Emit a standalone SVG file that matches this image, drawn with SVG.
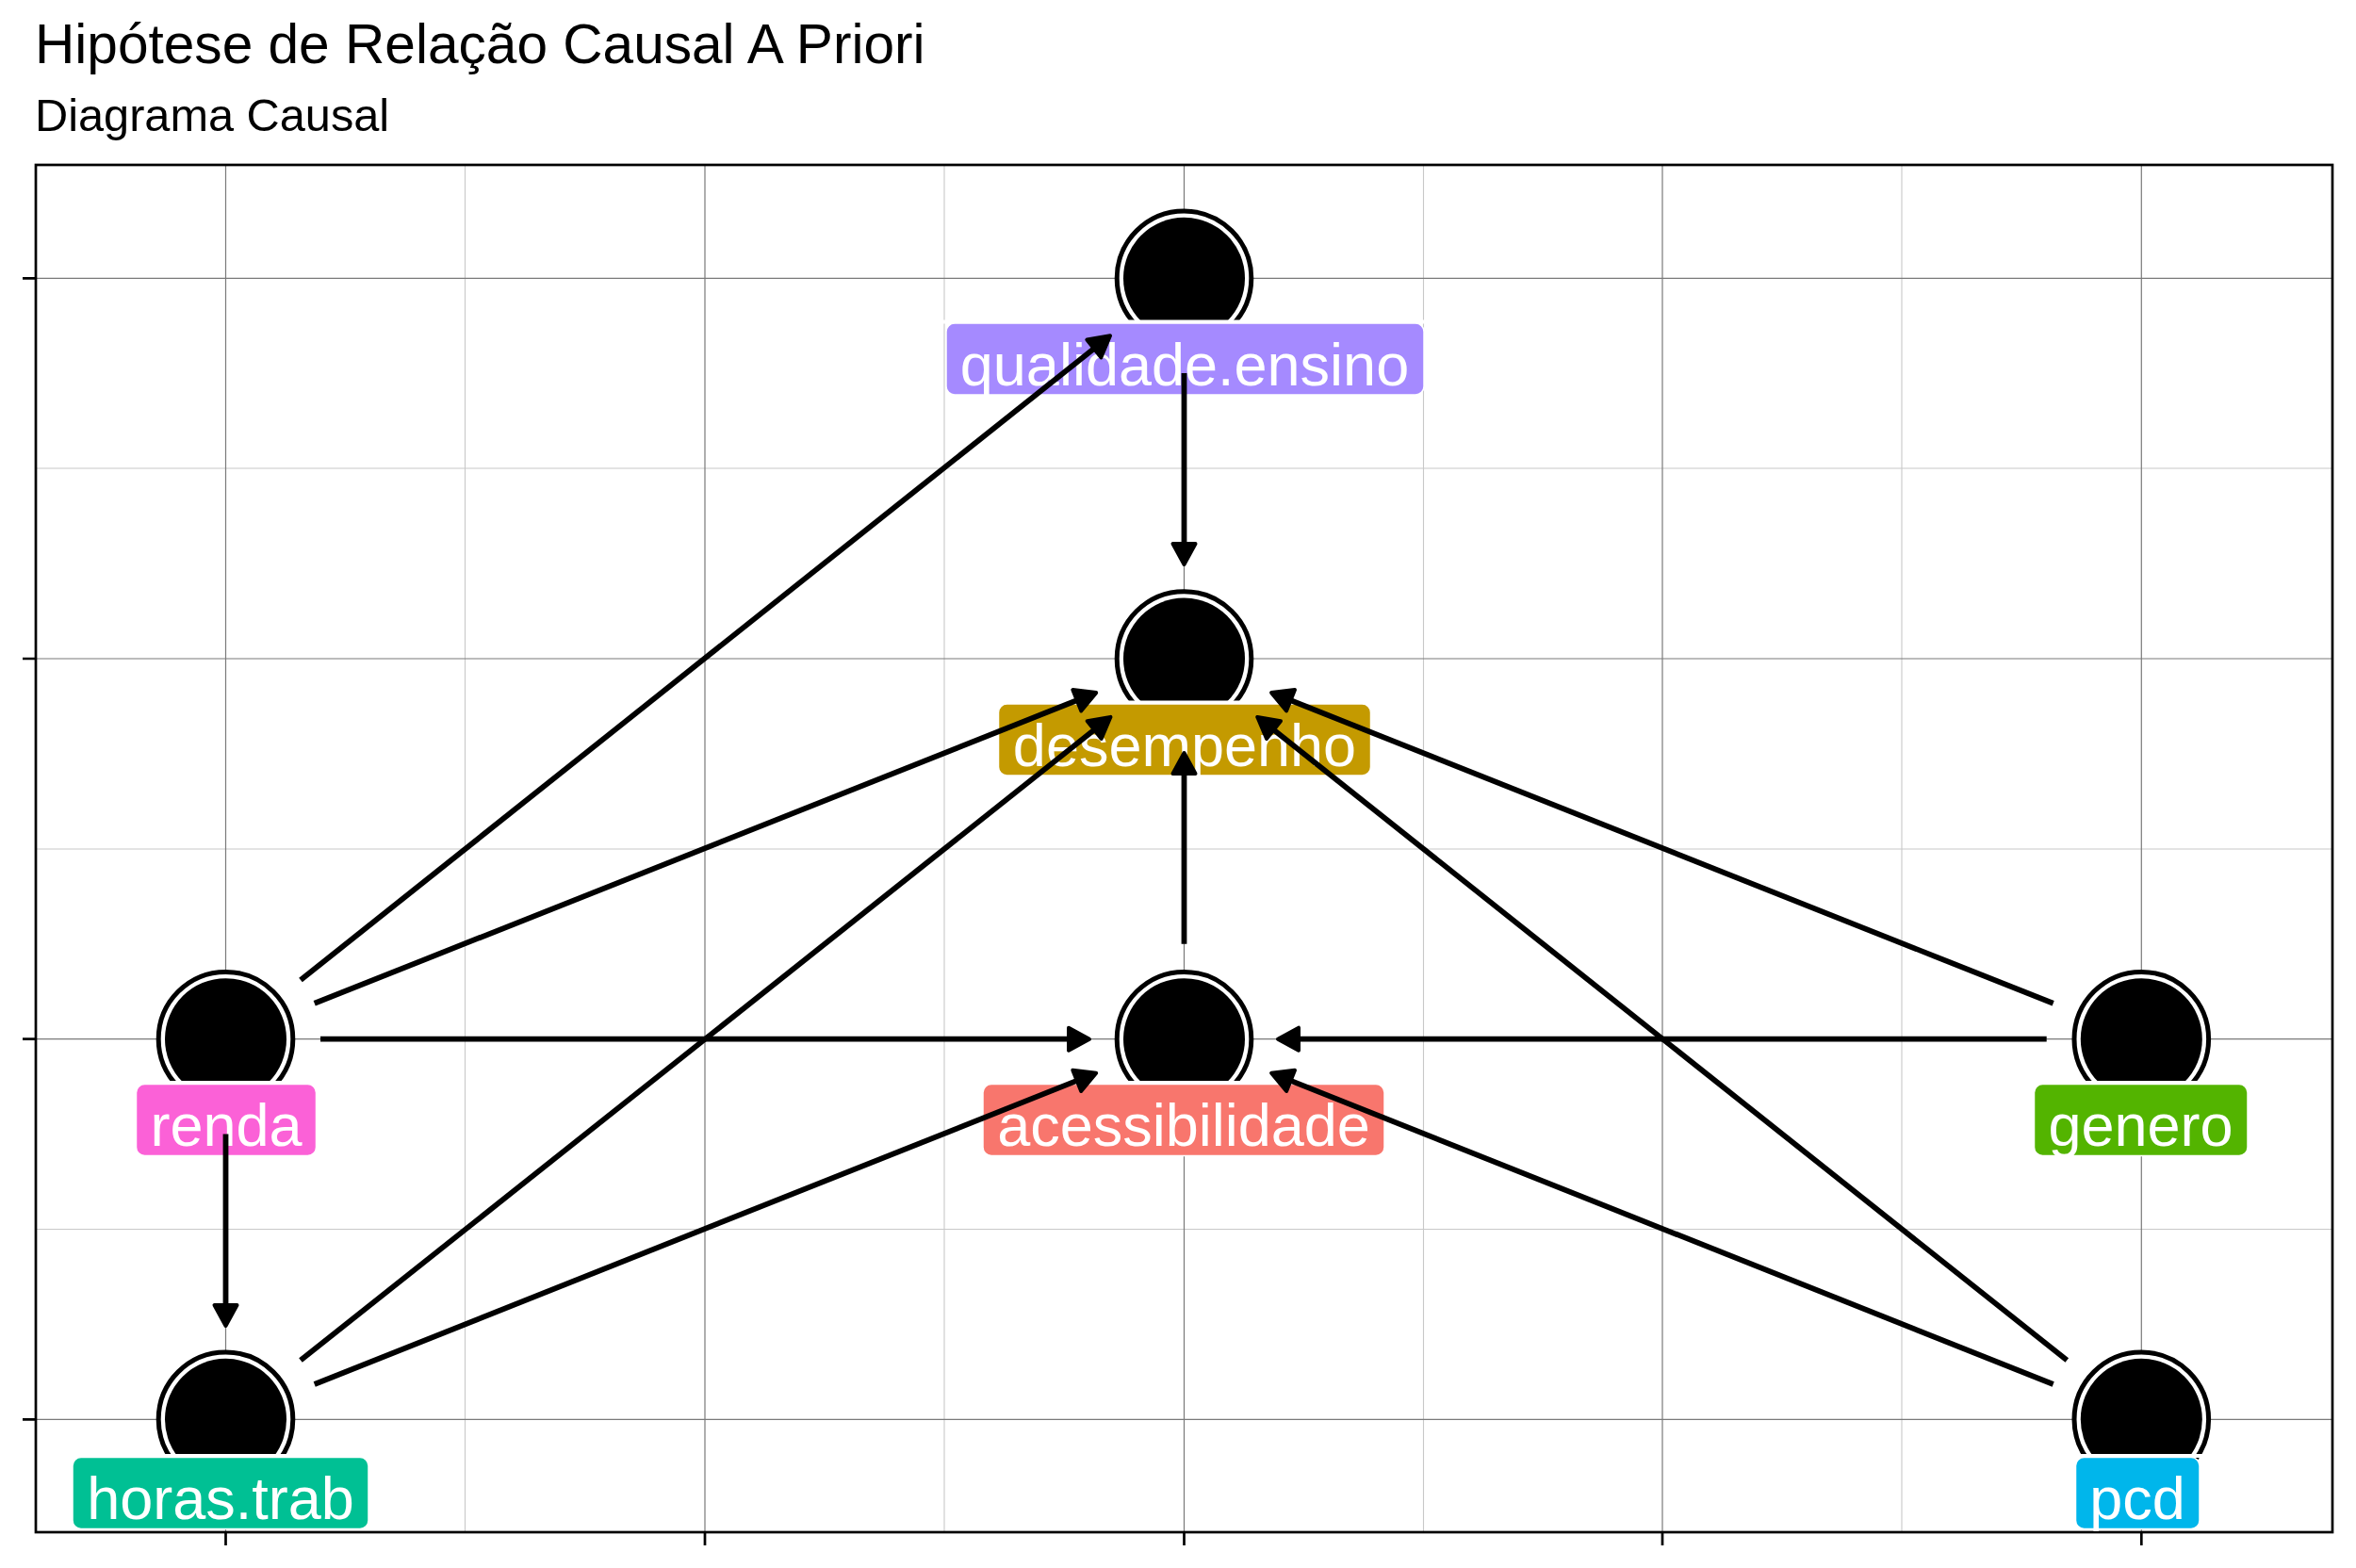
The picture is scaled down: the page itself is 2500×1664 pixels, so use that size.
<svg xmlns="http://www.w3.org/2000/svg" width="2500" height="1664" viewBox="0 0 2500 1664">
<style>
text{font-family:"Liberation Sans",Arial,sans-serif}
.title{font-size:58.6px;fill:#000}
.sub{font-size:48.7px;fill:#000}
.maj{stroke:#7a7a7a;stroke-width:1.2;fill:none}
.min{stroke:#c8c8c8;stroke-width:1.1;fill:none}
.tick{stroke:#000;stroke-width:2.7;fill:none}
.ring{fill:#fff;stroke:#000;stroke-width:5}
.dot{fill:#000}
.lab{stroke:#fff;stroke-width:1.5}
.txt{font-size:63px;fill:#fff;text-anchor:middle}
.edge{stroke:#000;stroke-width:5.8;fill:none;marker-end:url(#ah)}
</style>
<defs>
<marker id="ah" markerUnits="userSpaceOnUse" viewBox="-16 -16 32 32" markerWidth="32" markerHeight="32" refX="0" refY="0" orient="auto">
<path d="M-12,-12 L10,0 L-12,12 Z" fill="#000" stroke="#000" stroke-width="4" stroke-linejoin="round"/>
</marker>
</defs>
<rect width="2500" height="1664" fill="#fff"/>
<text class="title" x="37" y="67">Hipótese de Relação Causal A Priori</text>
<text class="sub" x="37" y="139">Diagrama Causal</text>
<g id="grid">
<path class="min" d="M493.5,175V1626M1002,175V1626M1510.5,175V1626M2018,175V1626M38,497H2475M38,901H2475M38,1304.5H2475"/>
<path class="maj" d="M239.5,175V1626M748,175V1626M1256.5,175V1626M1764,175V1626M2272.3,175V1626M38,295.3H2475M38,699H2475M38,1102.7H2475M38,1506.3H2475"/>
</g>
<g id="axes">
<rect x="38" y="175" width="2437" height="1451" fill="none" stroke="#000" stroke-width="2.7"/>
<path class="tick" d="M24,295.3H38M24,699H38M24,1102.7H38M24,1506.3H38M239.5,1626V1640M748,1626V1640M1256.5,1626V1640M1764,1626V1640M2272.3,1626V1640"/>
</g>
<g id="node-qualidade-ensino">
<circle class="ring" cx="1256.5" cy="295.3" r="71.3"/><circle class="dot" cx="1256.5" cy="295.3" r="64.5"/>
<rect x="1000" y="339.5" width="515" height="4" fill="#fff"/>
<rect class="lab" x="1004" y="343" width="507" height="76" rx="9" fill="#A58AFF"/>
<text class="txt" x="1257" y="409">qualidade.ensino</text>
</g>
<g id="node-desempenho">
<circle class="ring" cx="1256.5" cy="699" r="71.3"/><circle class="dot" cx="1256.5" cy="699" r="64.5"/>
<rect x="1056" y="743.5" width="402" height="4" fill="#fff"/>
<rect class="lab" x="1059.5" y="747" width="395" height="76" rx="9" fill="#C49A00"/>
<text class="txt" x="1257" y="813">desempenho</text>
</g>
<g id="node-acessibilidade">
<circle class="ring" cx="1256.5" cy="1102.7" r="71.3"/><circle class="dot" cx="1256.5" cy="1102.7" r="64.5"/>
<rect x="1040" y="1147" width="432" height="4" fill="#fff"/>
<rect class="lab" x="1043" y="1150.5" width="426" height="76" rx="9" fill="#F8766D"/>
<text class="txt" x="1256" y="1216">acessibilidade</text>
</g>
<g id="node-renda">
<circle class="ring" cx="239.5" cy="1102.7" r="71.3"/><circle class="dot" cx="239.5" cy="1102.7" r="64.5"/>
<rect x="141" y="1147" width="198" height="4" fill="#fff"/>
<rect class="lab" x="144.5" y="1150.5" width="191" height="76" rx="9" fill="#FB61D7"/>
<text class="txt" x="240" y="1216">renda</text>
</g>
<g id="node-horas-trab">
<circle class="ring" cx="239.5" cy="1506.3" r="71.3"/><circle class="dot" cx="239.5" cy="1506.3" r="64.5"/>
<rect x="74" y="1543" width="320" height="4" fill="#fff"/>
<rect class="lab" x="77" y="1546.5" width="314" height="76" rx="9" fill="#00C094"/>
<text class="txt" x="234" y="1612">horas.trab</text>
</g>
<g id="node-genero">
<circle class="ring" cx="2272.3" cy="1102.7" r="71.3"/><circle class="dot" cx="2272.3" cy="1102.7" r="64.5"/>
<rect x="2155" y="1147" width="233" height="4" fill="#fff"/>
<rect class="lab" x="2158.5" y="1150.5" width="226.5" height="76" rx="9" fill="#53B400"/>
<text class="txt" x="2271.5" y="1216">genero</text>
</g>
<g id="node-pcd">
<circle class="ring" cx="2272.3" cy="1506.3" r="71.3"/><circle class="dot" cx="2272.3" cy="1506.3" r="64.5"/>
<rect x="2199" y="1543" width="138" height="4" fill="#fff"/>
<rect class="lab" x="2202.5" y="1546.5" width="131.5" height="76" rx="9" fill="#00B6EB"/>
<text class="txt" x="2268" y="1612">pcd</text>
</g>
<g id="connectors">
<path class="edge" d="M319,1040L1170.2,362.5"/>
<path class="edge" d="M333.7,1064.8L1153.9,738.8"/>
<path class="edge" d="M340,1102.7H1146"/>
<path class="edge" d="M239.5,1203.4V1397"/>
<path class="edge" d="M319,1443.6L1170.6,767.1"/>
<path class="edge" d="M333.7,1469L1153.9,1142.4"/>
<path class="edge" d="M1256.5,396V589"/>
<path class="edge" d="M1256.5,1001.8V809"/>
<path class="edge" d="M2178.7,1064.8L1358.4,738.8"/>
<path class="edge" d="M2171.7,1102.7H1366"/>
<path class="edge" d="M2193.3,1443.6L1342.1,767.1"/>
<path class="edge" d="M2178.7,1469L1358.4,1142.4"/>
</g>
</svg>
